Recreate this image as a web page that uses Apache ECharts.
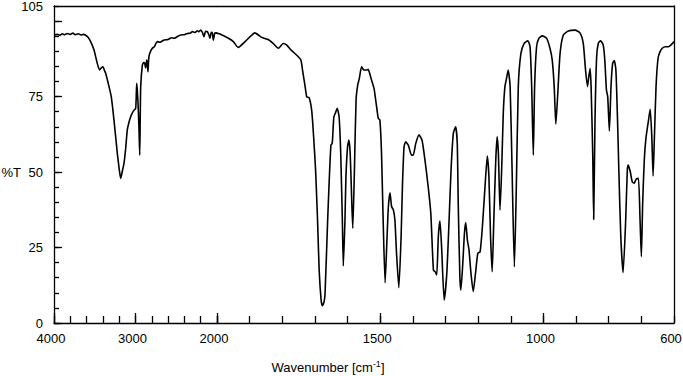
<!DOCTYPE html>
<html>
<head>
<meta charset="utf-8">
<script src="https://cdn.jsdelivr.net/npm/echarts@6/dist/echarts.min.js"></script>
<style>
  html, body { margin: 0; padding: 0; background: #fff; }
  #chart { width: 683px; height: 376px; }
</style>
</head>
<body>
<div id="chart"></div>
<script>
// spectrum: wavenumber (cm-1) and %T
const wavenumbers = [
  4000, 3960, 3930, 3900, 3870, 3840, 3800, 3770, 3740, 3700, 3670, 3640, 3611, 3580, 3550, 3509,
  3469, 3440, 3420, 3399, 3380, 3366, 3325, 3297, 3264, 3223, 3200, 3182, 3160, 3141, 3120, 3101,
  3080, 3059, 3040, 3018, 2998, 2990, 2985, 2978, 2969, 2958, 2948, 2942, 2936, 2916, 2900, 2887,
  2875, 2863, 2855, 2847, 2838, 2826, 2794, 2770, 2733, 2700, 2650, 2600, 2560, 2528, 2490, 2446,
  2400, 2364, 2330, 2300, 2270, 2242, 2220, 2200, 2180, 2160, 2140, 2119, 2100, 2086, 2070, 2057,
  2045, 2030, 2016, 2000,
  1991, 1965, 1950, 1935, 1914, 1899, 1884, 1863, 1843, 1828, 1812, 1797, 1787, 1771, 1751, 1743,
  1738, 1730, 1725, 1718, 1710, 1704, 1698, 1692, 1687, 1681, 1677, 1672, 1669, 1661, 1657, 1651,
  1647, 1642, 1637, 1632, 1626, 1621, 1616, 1613, 1608, 1605, 1600, 1596, 1592, 1587, 1584, 1579,
  1574, 1569, 1564, 1557, 1550, 1541, 1537, 1528, 1519, 1511, 1506, 1501, 1496, 1491, 1485, 1479,
  1475, 1470, 1465, 1460, 1455, 1450, 1443, 1436, 1432, 1427, 1422, 1414, 1404, 1399, 1391, 1381,
  1372, 1363, 1353, 1345, 1337, 1332, 1327, 1322, 1317, 1312, 1304, 1296, 1289, 1283, 1276, 1269,
  1264, 1261, 1256, 1253, 1247, 1242, 1238, 1233, 1228, 1222, 1215, 1208, 1201, 1194, 1187, 1179,
  1172, 1167, 1162, 1157, 1152, 1146, 1142, 1138, 1133, 1128, 1123, 1118, 1113, 1108, 1102, 1096,
  1089, 1083, 1077, 1069, 1059, 1048, 1041, 1036, 1031, 1027, 1021, 1014, 1004, 990, 980, 973,
  967, 962, 956, 949, 939, 924, 903, 888, 878, 871, 865, 861, 857, 854, 849, 846,
  842, 837, 832, 825, 817, 812, 807, 803, 798, 793, 788, 783, 778, 773, 769, 763,
  756, 748, 743, 740, 734, 728, 722, 716, 709, 704, 700, 696, 691, 686, 678, 673,
  668, 664, 660, 655, 649, 643, 636, 627, 617, 609, 600
];
const transmittance = [
  95.4, 95.6, 95.3, 95.8, 95.5, 95.9, 95.6, 96.0, 95.5, 95.8, 95.4, 95.6, 95.3, 94.6, 93.2, 90.4,
  86.0, 83.8, 84.5, 84.9, 83.6, 82.7, 78.3, 74.9, 67.2, 56.2, 51.0, 47.9, 50.5, 52.9, 58.0, 63.9,
  66.5, 68.3, 69.5, 70.5, 71.1, 76.0, 79.4, 77.0, 72.8, 65.0, 55.6, 68.0, 78.3, 85.4, 86.3, 86.0,
  84.5, 87.1, 86.0, 83.2, 87.5, 89.3, 91.0, 91.5, 93.2, 93.0, 93.7, 93.9, 94.5, 94.3, 94.8, 95.4,
  95.5, 95.9, 96.0, 96.5, 96.2, 96.8, 96.5, 97.0, 96.3, 94.8, 96.6, 96.5, 95.5, 94.3, 96.3, 96.1,
  93.7, 95.8, 96.1, 96.0,
  95.7, 94.3, 93.2, 91.3, 93.2, 94.8, 96.1, 94.6, 93.9, 92.6, 91.0, 92.6, 92.1, 90.2, 88.2, 87.1,
  83.8, 78.3, 74.9, 74.7, 70.5, 61.7, 50.7, 34.1, 17.5, 7.6, 5.7, 7.0, 9.8, 34.1, 45.1, 58.9,
  59.5, 68.3, 69.6, 71.1, 68.3, 56.2, 34.1, 18.9, 34.1, 48.4, 58.4, 60.6, 56.2, 39.6, 31.4, 50.7,
  73.8, 78.8, 81.0, 84.9, 83.8, 83.8, 84.0, 81.0, 77.7, 71.6, 67.8, 67.2, 56.2, 34.1, 13.3, 28.6,
  38.5, 43.1, 38.5, 37.6, 34.1, 23.1, 11.7, 28.6, 45.1, 58.4, 60.0, 58.9, 55.6, 55.6, 59.5, 62.3,
  60.6, 54.0, 45.1, 36.3, 17.5, 17.0, 15.9, 28.6, 33.8, 25.3, 7.6, 16.5, 34.1, 50.7, 62.8, 65.0,
  59.5, 39.6, 15.3, 10.9, 19.8, 29.7, 33.3, 27.5, 24.2, 16.5, 10.4, 16.5, 23.1, 23.6, 31.9, 45.1,
  55.3, 48.4, 28.6, 17.0, 34.1, 54.0, 61.7, 56.2, 37.4, 50.7, 69.4, 78.3, 81.0, 83.8, 78.3, 50.7,
  18.6, 45.1, 78.3, 89.3, 92.6, 93.5, 91.5, 78.3, 55.6, 78.3, 91.5, 94.3, 95.1, 94.3, 91.0, 87.1,
  78.3, 65.9, 76.1, 89.3, 95.4, 96.7, 97.0, 96.1, 92.6, 83.8, 78.3, 81.6, 84.3, 78.3, 56.2, 34.3,
  67.2, 88.2, 92.6, 93.5, 92.1, 87.1, 77.2, 74.9, 63.6, 78.3, 86.0, 86.9, 83.8, 67.2, 50.7, 28.6,
  16.7, 34.1, 50.7, 52.3, 50.1, 46.8, 46.3, 47.6, 47.9, 34.1, 22.0, 39.6, 54.0, 61.2, 67.2, 70.8,
  61.7, 48.7, 61.7, 78.3, 87.6, 89.8, 91.0, 91.5, 91.5, 92.1, 93.2
];

// tick labels
const yLabels = [0, 25, 50, 75, 105];
const yMajorTicks = [0, 25, 50, 75, 100];
const xLabelsHigh = [4000, 3000, 2000];   // compressed part, 4000-2000
const xLabelsLow = [1500, 1000, 600];     // expanded part, 2000-600
const xMajorTicksLow = [1500, 1000];

const FONT = 'Liberation Sans, Arial, Helvetica, sans-serif';
const black = '#000';

const points = wavenumbers.map((w, i) => [w, transmittance[i]]);
const highPart = points.filter(p => p[0] >= 1991);
const lowPart = points.filter(p => p[0] <= 2016);

const lineAx = { show: true, lineStyle: { color: black, width: 1.3 } };
const noLine = { show: false };
const labelStyle = { color: black, fontSize: 13, fontFamily: FONT };
const plain = v => String(v);

const chart = echarts.init(document.getElementById('chart'), null, { renderer: 'svg' });

const option = {
  animation: false,
  backgroundColor: '#fff',
  grid: [
    { left: 54, top: 6, width: 163, height: 317, outerBoundsMode: 'none' },
    { left: 217, top: 6, width: 457, height: 317, outerBoundsMode: 'none' }
  ],
  xAxis: [
    {
      gridIndex: 0, type: 'value', position: 'bottom', inverse: true,
      min: 2000, max: 4000, interval: 1000,
      axisLine: lineAx,
      axisTick: { inside: true, length: 10, lineStyle: { color: black, width: 1.3 } },
      axisLabel: Object.assign({ customValues: xLabelsHigh, formatter: plain, margin: 9,
        padding: [0, 6, 0, 0], showMinLabel: true, showMaxLabel: true }, labelStyle),
      splitLine: { show: false }
    },
    {
      gridIndex: 0, type: 'value', position: 'bottom', inverse: true,
      min: 2000, max: 4000, interval: 200,
      axisLine: noLine,
      axisTick: { inside: true, length: 7, lineStyle: { color: black, width: 1.3 } },
      axisLabel: { show: false },
      splitLine: { show: false }
    },
    {
      gridIndex: 0, type: 'value', position: 'top', inverse: true,
      min: 2000, max: 4000,
      axisLine: lineAx, axisTick: { show: false }, axisLabel: { show: false },
      splitLine: { show: false }
    },
    {
      gridIndex: 1, type: 'value', position: 'bottom', inverse: true,
      min: 600, max: 2000, interval: 100,
      axisLine: lineAx,
      axisTick: { inside: true, length: 10, customValues: xMajorTicksLow, lineStyle: { color: black, width: 1.3 } },
      axisLabel: Object.assign({ customValues: xLabelsLow, formatter: plain, margin: 9,
        padding: [0, 6, 0, 0], showMinLabel: true, showMaxLabel: true }, labelStyle),
      splitLine: { show: false }
    },
    {
      gridIndex: 1, type: 'value', position: 'bottom', inverse: true,
      min: 600, max: 2000, interval: 100,
      axisLine: noLine,
      axisTick: { inside: true, length: 7, lineStyle: { color: black, width: 1.3 } },
      axisLabel: { show: false },
      splitLine: { show: false }
    },
    {
      gridIndex: 1, type: 'value', position: 'top', inverse: true,
      min: 600, max: 2000,
      axisLine: lineAx, axisTick: { show: false }, axisLabel: { show: false },
      splitLine: { show: false }
    }
  ],
  yAxis: [
    {
      gridIndex: 0, type: 'value', position: 'left',
      min: 0, max: 105, interval: 25,
      axisLine: lineAx,
      axisTick: { inside: true, length: 8, customValues: yMajorTicks, lineStyle: { color: black, width: 1.3 } },
      axisLabel: Object.assign({ customValues: yLabels, formatter: plain, margin: 11 }, labelStyle),
      splitLine: { show: false }
    },
    {
      gridIndex: 0, type: 'value', position: 'left',
      min: 0, max: 105, interval: 5,
      axisLine: noLine,
      axisTick: { inside: true, length: 5, lineStyle: { color: black, width: 1.3 } },
      axisLabel: { show: false },
      splitLine: { show: false }
    },
    {
      gridIndex: 1, type: 'value', position: 'right',
      min: 0, max: 105,
      axisLine: lineAx, axisTick: { show: false }, axisLabel: { show: false },
      splitLine: { show: false }
    }
  ],
  graphic: [
    {
      // y axis title, on the line of the 50 label
      type: 'text', x: 21, y: 172,
      style: {
        text: '%T', fill: black, fontSize: 13, fontFamily: FONT,
        align: 'right', verticalAlign: 'middle'
      }
    },
    {
      type: 'text', x: 328, y: 367,
      style: {
        text: 'Wavenumber [cm{sup|-1}]',
        fill: black, fontSize: 13, fontFamily: FONT,
        align: 'center', verticalAlign: 'middle',
        rich: { sup: { fontSize: 9, fontFamily: FONT, fill: black, verticalAlign: 'top', padding: [0, 0, 6, 0] } }
      }
    }
  ],
  series: [
    {
      type: 'line', xAxisIndex: 0, yAxisIndex: 0, data: highPart,
      showSymbol: false, smooth: 0.2, clip: true,
      lineStyle: { color: black, width: 1.6 }
    },
    {
      type: 'line', xAxisIndex: 3, yAxisIndex: 2, data: lowPart,
      showSymbol: false, smooth: 0.2, clip: true,
      lineStyle: { color: black, width: 1.6 }
    }
  ]
};

chart.setOption(option);
</script>
</body>
</html>
